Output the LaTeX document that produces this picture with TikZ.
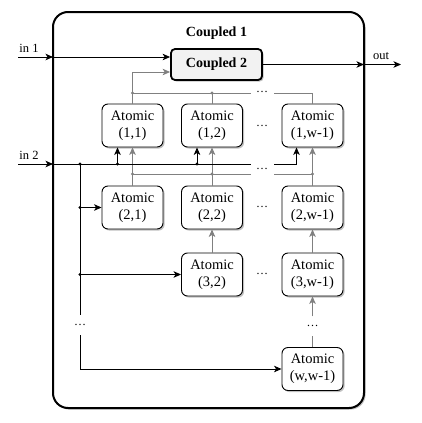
\documentclass[tikz,border=0pt]{standalone}
\usepackage{fontspec}
\setmainfont{Liberation Serif}
\usetikzlibrary{arrows.meta,shadows}
\definecolor{lgray}{HTML}{808080}
\definecolor{cfill}{HTML}{F2F2F2}
\begin{document}
\begin{tikzpicture}[x=1pt,y=-1pt,
  tip/.style={-{Stealth[length=7.5pt,width=6.5pt,inset=2pt]}},
  ln/.style={draw=black,line width=0.9pt},
  arr/.style={ln,tip},
  gln/.style={draw=lgray,line width=0.9pt},
  garr/.style={gln,-{Stealth[length=7.5pt,width=6.5pt,inset=2pt,fill=lgray]}},
  shad/.style={drop shadow={shadow xshift=1.6pt,shadow yshift=-1.6pt,opacity=0.35,fill=black!70}},
  atomic/.style={draw,line width=0.9pt,rounded corners=6pt,fill=white,minimum width=61pt,minimum height=43pt,align=center,font=\fontsize{14.5}{17}\selectfont,inner sep=0pt,shad},
  c1box/.style={draw,line width=2pt,rounded corners=15pt,fill=white,minimum width=311pt,minimum height=396pt,inner sep=0pt,shad},
  c2box/.style={draw,line width=1.8pt,rounded corners=4pt,fill=cfill,minimum width=91pt,minimum height=31pt,inner sep=0pt,font=\fontsize{14}{16}\selectfont\bfseries,shad},
  lbl/.style={font=\fontsize{12.5}{14}\selectfont,inner sep=0pt},
  ell/.style={font=\fontsize{12}{14}\selectfont,inner sep=0pt},
  jdot/.style={fill=black},
  gdot/.style={fill=lgray}
]
\useasboundingbox (0,0) rectangle (421,423);
\fill[white] (0,0) rectangle (421,423);

% containers
\node[c1box] (c1) at (208.5,210) {};
\node[font=\fontsize{14}{16}\selectfont\bfseries,inner sep=0pt] (t1) at (216.5,33) {Coupled 1};
\node[c2box] (c2) at (216.5,64.5) {Coupled 2};

% atomic nodes
\node[atomic] (a11) at (132.5,125.5) {Atomic\\(1,1)};
\node[atomic] (a12) at (212,125.5) {Atomic\\(1,2)};
\node[atomic] (a1w) at (312.5,125.5) {Atomic\\(1,w-1)};
\node[atomic] (a21) at (132.5,207.5) {Atomic\\(2,1)};
\node[atomic] (a22) at (212,207.5) {Atomic\\(2,2)};
\node[atomic] (a2w) at (312.5,207.5) {Atomic\\(2,w-1)};
\node[atomic] (a32) at (212,274.5) {Atomic\\(3,2)};
\node[atomic] (a3w) at (312.5,274.5) {Atomic\\(3,w-1)};
\node[atomic] (aww) at (312.5,369) {Atomic\\(w,w-1)};

% labels
\node[lbl] (lin1) at (29,48) {in 1};
\node[lbl] (lin2) at (29,155) {in 2};
\node[lbl] (lout) at (381,56) {out};

% ellipses
\node[ell] (e1) at (262,126) {…};
\node[ell] (e2) at (262,207) {…};
\node[ell] (e3) at (262,274) {…};
\node[ell] (e4) at (262,92) {…};
\node[ell] (e5) at (262,169) {…};
\node[ell] (e6) at (80,325) {…};
\node[ell] (e7) at (312.5,326) {…};

% coordinates
\coordinate (in1s) at (18,57);
\coordinate (b1in1) at (53,57);
\coordinate (in2s) at (18,164);
\coordinate (b1in2) at (53,164);
\coordinate (b1out) at (364,65);
\coordinate (outE) at (401,65);
\coordinate (bus1L) at (251,93);
\coordinate (bus1R) at (274,93);
\coordinate (bus2L) at (251,174);
\coordinate (bus2R) at (274,174);
\coordinate (in2L) at (251,164);
\coordinate (in2R) at (274,164);
\coordinate (vL) at (80,164);
\coordinate (vD1) at (80,315);
\coordinate (vD2) at (80,335);
\path (c2.west) ++(0,7.5) coordinate (c2in2);
\path (a11.south) ++(-15,0) coordinate (a11In);
\path (a12.south) ++(-15,0) coordinate (a12In);
\path (a1w.south) ++(-16,0) coordinate (a1wIn);
\path (aww.north) ++(0,-11) coordinate (awU);
\path (a3w.south) ++(0,20) coordinate (a3wD);

% in 1 / out
\draw[arr] (in1s) -- (b1in1);
\draw[arr] (b1in1) -- (b1in1 -| c2.west);
\draw[arr] (c2.east) -- (c2.east -| b1out);
\draw[arr] (c2.east -| b1out) -- (c2.east -| outE);

% outputs of row 1 to Coupled 2
\draw[garr] (a11.north) |- (c2in2);
\draw[gln] (a11.north |- bus1L) -- (bus1L);
\draw[gln] (bus1R) -| (a1w.north);
\draw[gln] (a12.north) -- (a12.north |- bus1L);
\fill[gdot] (a11.north |- bus1L) circle (1.7pt);
\fill[gdot] (a12.north |- bus1L) circle (1.7pt);

% row 2 -> row 1
\draw[garr] (a21.north) -- (a11.south);
\draw[garr] (a22.north) -- (a12.south);
\draw[garr] (a2w.north) -- (a1w.south);
\draw[gln] (a21.north |- bus2L) -- (bus2L);
\draw[gln] (bus2R) -- (a2w.north |- bus2R);
\fill[gdot] (a21.north |- bus2L) circle (1.7pt);
\fill[gdot] (a22.north |- bus2L) circle (1.7pt);
\fill[gdot] (a2w.north |- bus2L) circle (1.7pt);

% in 2
\draw[arr] (in2s) -- (b1in2);
\draw[ln] (b1in2) -- (in2L);
\draw[arr] (in2R) -| (a1wIn);
\draw[arr] (a11In |- in2L) -- (a11In);
\draw[arr] (a12In |- in2L) -- (a12In);
\fill[jdot] (a11In |- in2L) circle (1.7pt);
\fill[jdot] (a12In |- in2L) circle (1.7pt);

% left distribution
\draw[ln] (vL) -- (vD1);
\draw[arr] (vD2) |- (aww.west);
\draw[arr] (vL |- a21.west) -- (a21.west);
\draw[arr] (vL |- a32.west) -- (a32.west);
\fill[jdot] (vL) circle (1.7pt);
\fill[jdot] (vL |- a21.west) circle (1.7pt);
\fill[jdot] (vL |- a32.west) circle (1.7pt);

% lower gray arrows
\draw[garr] (a32.north) -- (a22.south);
\draw[garr] (a3w.north) -- (a2w.south);
\draw[gln] (aww.north) -- (awU);
\draw[garr] (a3wD) -- (a3w.south);
\end{tikzpicture}
\end{document}
